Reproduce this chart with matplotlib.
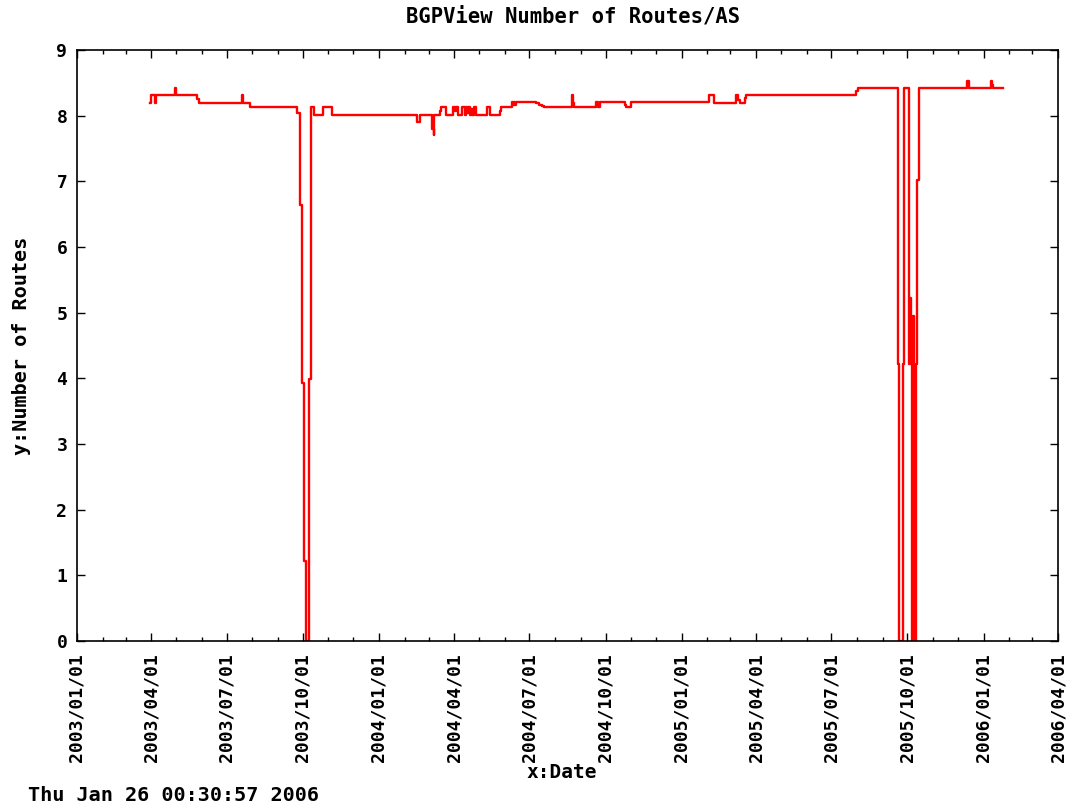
import matplotlib
matplotlib.use("Agg")
import matplotlib.pyplot as plt
import matplotlib.dates as mdates
import pandas as pd

# step change points: (date the value starts, routes per AS)
dates = [
    "2003-03-30", "2003-03-31", "2003-04-05", "2003-04-07", "2003-04-30", "2003-05-01",
    "2003-05-26", "2003-05-28", "2003-07-19", "2003-07-21", "2003-07-29", "2003-09-24",
    "2003-09-28", "2003-09-30", "2003-10-03", "2003-10-05", "2003-10-09", "2003-10-11",
    "2003-10-14", "2003-10-26", "2003-11-05", "2004-02-16", "2004-02-20", "2004-03-05",
    "2004-03-07", "2004-03-08", "2004-03-15", "2004-03-16", "2004-03-22", "2004-03-31",
    "2004-04-02", "2004-04-03", "2004-04-06", "2004-04-10", "2004-04-14", "2004-04-15",
    "2004-04-17", "2004-04-18", "2004-04-20", "2004-04-21", "2004-04-22", "2004-04-25",
    "2004-04-27", "2004-05-11", "2004-05-14", "2004-05-26", "2004-05-28", "2004-06-10",
    "2004-06-11", "2004-06-12", "2004-06-13", "2004-06-15", "2004-07-09", "2004-07-13",
    "2004-07-16", "2004-07-19", "2004-08-22", "2004-08-23", "2004-08-24", "2004-09-19",
    "2004-09-22", "2004-09-24", "2004-10-24", "2004-10-26", "2004-11-01", "2005-02-03",
    "2005-02-09", "2005-03-08", "2005-03-10", "2005-03-12", "2005-03-19", "2005-03-20",
    "2005-07-31", "2005-08-02", "2005-09-20", "2005-09-21", "2005-09-26", "2005-09-27",
    "2005-10-03", "2005-10-04", "2005-10-05", "2005-10-06", "2005-10-08", "2005-10-09",
    "2005-10-10", "2005-10-11", "2005-10-13", "2005-10-15", "2005-12-12", "2005-12-14",
    "2006-01-10", "2006-01-11", "2006-01-13", "2006-01-25",
]
routes = [
    8.20, 8.31, 8.20, 8.31, 8.42, 8.31,
    8.25, 8.20, 8.31, 8.20, 8.13, 8.04,
    6.64, 3.93, 1.22, 0.00, 3.99, 8.13,
    8.01, 8.13, 8.01, 7.91, 8.01, 7.80,
    7.70, 8.01, 8.07, 8.13, 8.01, 8.13,
    8.07, 8.13, 8.01, 8.13, 8.01, 8.13,
    8.04, 8.13, 8.01, 8.10, 8.01, 8.13,
    8.01, 8.13, 8.01, 8.07, 8.13, 8.21,
    8.16, 8.21, 8.16, 8.21, 8.19, 8.17,
    8.15, 8.13, 8.31, 8.20, 8.13, 8.21,
    8.13, 8.21, 8.16, 8.13, 8.21, 8.31,
    8.20, 8.31, 8.24, 8.20, 8.27, 8.31,
    8.37, 8.42, 4.22, 0.00, 4.22, 8.42,
    4.22, 5.22, 4.22, 0.00, 4.95, 1.40,
    0.00, 4.22, 7.02, 8.42, 8.53, 8.42,
    8.53, 8.46, 8.42, 8.42,
]

title = "BGPView Number of Routes/AS"
xlabel = "x:Date"
ylabel = "y:Number of Routes"
stamp = "Thu Jan 26 00:30:57 2006"
yticks = list(range(0, 10))

plt.rcParams["font.family"] = ["DejaVu Sans Mono"]
plt.rcParams["font.weight"] = "bold"

fig = plt.figure(figsize=(10.7, 8.05), dpi=100, facecolor="white")
ax = fig.add_axes([77 / 1070, 1 - 641 / 805, 981 / 1070, 591 / 805])

x = pd.to_datetime(dates)
ax.plot(x, routes, color="red", lw=1.7, drawstyle="steps-post")

ax.set_xlim(pd.Timestamp("2003-01-01"), pd.Timestamp("2006-04-01"))
ax.set_ylim(0, 9)
ax.set_yticks(yticks)
ax.xaxis.set_major_locator(mdates.MonthLocator(bymonth=[1, 4, 7, 10]))
ax.xaxis.set_minor_locator(mdates.MonthLocator())
ax.xaxis.set_major_formatter(mdates.DateFormatter("%Y/%m/%d"))

ax.tick_params(which="both", direction="in", top=True, right=True, width=1, colors="black")
ax.tick_params(which="major", length=6)
ax.tick_params(which="minor", length=3)
ax.tick_params(axis="x", which="major", labelsize=13, labelrotation=90, pad=9)
ax.tick_params(axis="y", labelsize=13, pad=7)
for sp in ax.spines.values():
    sp.set_linewidth(1.2)

ax.set_ylabel(ylabel, fontsize=14.5, fontweight="bold")
ax.yaxis.set_label_coords(-0.047, 0.5)
ax.set_xlabel(xlabel, fontsize=14, fontweight="bold")
ax.xaxis.set_label_coords(0.494, -0.207)

fig.text(573 / 1070, 1 - 16 / 805, title, ha="center", va="center", fontsize=14.8, fontweight="bold")
fig.text(28 / 1070, 1 - 795 / 805, stamp, ha="left", va="center", fontsize=14.5, fontweight="bold")

fig.savefig("out.png", dpi=100, facecolor="white")
